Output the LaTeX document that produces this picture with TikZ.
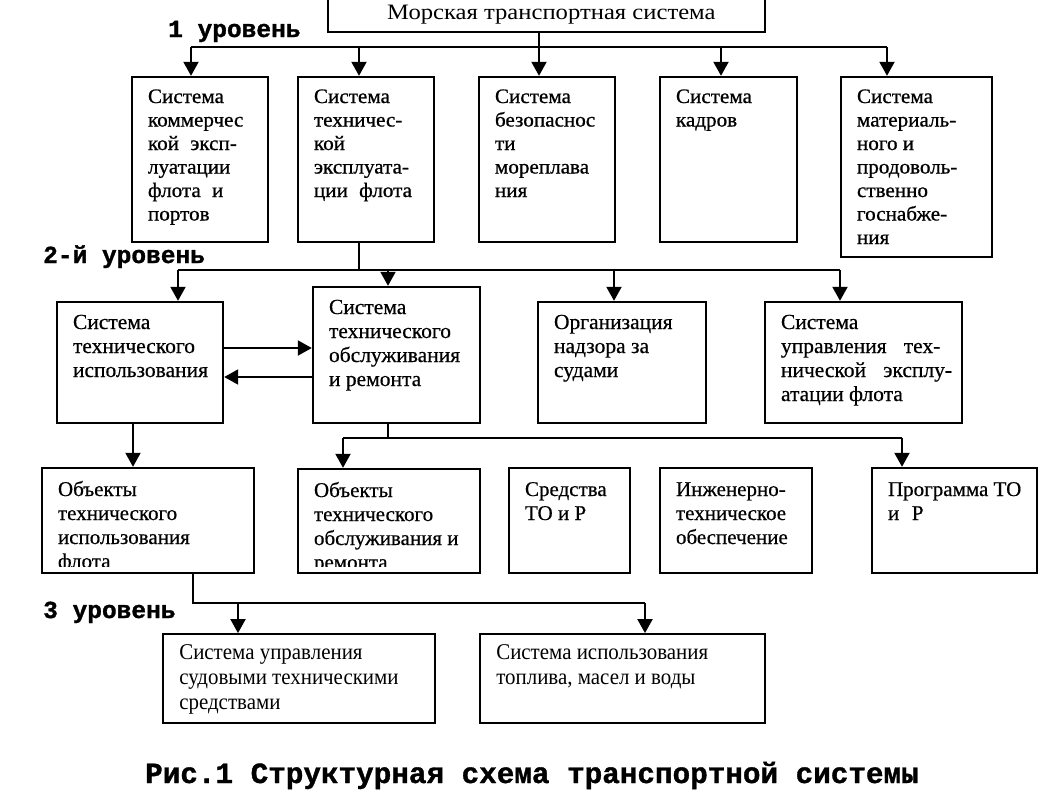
\documentclass[tikz,border=0pt]{standalone}
\usepackage{fontspec}
\setmainfont{Liberation Serif}
\newfontfamily\courb{Liberation Mono Bold}[FakeBold=1.2]
\newfontfamily\wideA{Liberation Serif}[FakeStretch=1.03, FakeBold=0.8]
\newfontfamily\wideT{Liberation Serif}[FakeStretch=1.12]
\newfontfamily\regB{Liberation Serif}[FakeBold=0.5]
\newfontfamily\condE{Liberation Serif}[FakeStretch=0.93]
\usetikzlibrary{arrows.meta,fit}
\tikzset{
  box/.style={draw, line width=2.4pt, inner sep=0pt},
  thinbox/.style={draw, line width=1.8pt, inner sep=0pt},
  txt/.style={anchor=north west, inner sep=0pt, align=left, font=\wideA\fontsize{20.5}{23.5}\selectfont},
  txtc/.style={anchor=north west, inner sep=0pt, align=left, font=\regB\fontsize{21.5}{24}\selectfont},
  txtd/.style={anchor=north west, inner sep=0pt, align=left, font=\regB\fontsize{21}{24}\selectfont},
  txte/.style={anchor=north west, inner sep=0pt, align=left, font=\condE\fontsize{22.5}{25}\selectfont},
  conn/.style={line width=2pt},
  arr/.style={conn, -{Triangle[length=14pt,width=15pt]}},
  lvl/.style={anchor=base west, inner sep=0pt, font=\courb\fontsize{24.5}{24.5}\selectfont},
}
% box: [style] name, x1, y1, x2, y2
\newcommand\mkbox[6][box]{\node[#1, fit={(#3,#4) (#5,#6)}] (#2) {};}
% text: name of box, style, first baseline offset, text
\newcommand\mktxt[4]{\node[#2] (#1t) at ([xshift=17pt, yshift=-#3pt+16pt]#1.north west) {\rule{0pt}{16pt}#4};}
\begin{document}
\begin{tikzpicture}[x=1pt, y=-1pt]
\useasboundingbox (0,0) rectangle (1052,807);
\fill[white] (0,0) rectangle (1052,807);

% top
\mkbox{top}{328}{-10}{765}{32}
\node[anchor=base west, inner sep=0pt, font=\wideT\fontsize{22}{22}\selectfont] (topt) at (387,19) {Морская транспортная система};

% level labels
\node[lvl] (l1) at (168,37) {1 уровень};
\node[lvl] (l2) at (43,263) {2-й уровень};
\node[lvl] (l3) at (43,618) {3 уровень};

% level 1 boxes
\mkbox{b1}{132}{77}{268}{242}
\mkbox{b2}{298}{77}{434}{242}
\mkbox{b3}{479}{77}{615}{242}
\mkbox{b4}{660}{77}{797}{242}
\mkbox{b5}{841}{77}{992}{257}
\mktxt{b1}{txt}{27}{Система\\коммерчес\\кой\hspace{0.55em}эксп-\\луатации\\флота\hspace{0.55em}и\\портов}
\mktxt{b2}{txt}{27}{Система\\техничес-\\кой\\эксплуата-\\ции\hspace{0.55em}флота}
\mktxt{b3}{txt}{27}{Система\\безопасноc\\ти\\мореплава\\ния}
\mktxt{b4}{txt}{27}{Система\\кадров}
\mktxt{b5}{txt}{27}{Система\\материаль-\\ного и\\продоволь-\\ственно\\госнабже-\\ния}

% level 1 connectors
\coordinate (p1) at (191,47);
\coordinate (p2) at (359,47);
\coordinate (p3) at (539,47);
\coordinate (p4) at (721,47);
\coordinate (p5) at (887,47);
\draw[conn] (p1) -- (p5);
\draw[conn] (top.south -| p3) -- (p3);
\draw[arr] (p1) -- (p1 |- b1.north);
\draw[arr] (p2) -- (p2 |- b2.north);
\draw[arr] (p3) -- (p3 |- b3.north);
\draw[arr] (p4) -- (p4 |- b4.north);
\draw[arr] (p5) -- (p5 |- b5.north);

% level 2 boxes
\mkbox{c1}{57}{302}{223}{423}
\mkbox{c2}{313}{287}{480}{423}
\mkbox{c3}{538}{302}{706}{423}
\mkbox{c4}{765}{302}{962}{423}
\mktxt{c1}{txtc}{28}{Система\\технического\\использования}
\mktxt{c2}{txtc}{28}{Система\\технического\\обслуживания\\и ремонта}
\mktxt{c3}{txtc}{28}{Организация\\надзора за\\судами}
\mktxt{c4}{txtc}{28}{Система\\управления\hspace{0.8em}тех-\\нической\hspace{0.8em}эксплу-\\атации флота}

% level 2 connectors
\coordinate (q0) at (359,270);
\coordinate (q1) at (178,270);
\coordinate (q2) at (388,270);
\coordinate (q3) at (614,270);
\coordinate (q4) at (840,270);
\draw[conn] (b2.south -| q0) -- (q0);
\draw[conn] (q1) -- (q4);
\draw[arr] (q1) -- (q1 |- c1.north);
\draw[arr] (q2) -- (q2 |- c2.north);
\draw[arr] (q3) -- (q3 |- c3.north);
\draw[arr] (q4) -- (q4 |- c4.north);
\coordinate (h1) at (0,348);
\coordinate (h2) at (0,377);
\draw[arr] (c1.east |- h1) -- (c2.west |- h1);
\draw[arr] (c2.west |- h2) -- (c1.east |- h2);

% lower boxes
\mkbox{d1}{42}{468}{254}{573}
\mkbox{d2}{298}{469}{480}{573}
\mkbox{d3}{509}{468}{630}{573}
\mkbox{d4}{660}{468}{812}{573}
\mkbox{d5}{872}{468}{1037}{573}
\begin{scope}
\clip (30,460) rectangle (500,566);
\mktxt{d1}{txtd}{29}{Объекты\\технического\\использования\\флота}
\mktxt{d2}{txtd}{29}{Объекты\\технического\\обслуживания и\\ремонта}
\end{scope}
\mktxt{d3}{txtd}{29}{Средства\\ТО и Р}
\mktxt{d4}{txtd}{29}{Инженерно-\\техническое\\обеспечение}
\mktxt{d5}{txtd}{29}{Программа ТО\\и\hspace{0.6em}Р}

% connectors to lower boxes
\coordinate (r0) at (133,0);
\draw[arr] (c1.south -| r0) -- (d1.north -| r0);
\coordinate (s0) at (388,438);
\coordinate (s1) at (343,438);
\coordinate (s2) at (902,438);
\draw[conn] (c2.south -| s0) -- (s0);
\draw[conn] (s1) -- (s2);
\draw[arr] (s1) -- (s1 |- d2.north);
\draw[arr] (s2) -- (s2 |- d5.north);

% level 3 boxes
\mkbox[thinbox]{e1}{163}{634}{435}{723}
\mkbox[thinbox]{e2}{480}{634}{765}{723}
\mktxt{e1}{txte}{26}{Система управления\\судовыми техническими\\средствами}
\mktxt{e2}{txte}{26}{Система использования\\топлива, масел и воды}

\coordinate (u0) at (193,603);
\coordinate (u1) at (238,603);
\coordinate (u2) at (645,603);
\draw[conn] (d1.south -| u0) -- (u0) -- (u2);
\draw[arr] (u1) -- (u1 |- e1.north);
\draw[arr] (u2) -- (u2 |- e2.north);

% caption
\node[anchor=base west, inner sep=0pt, font=\courb\fontsize{29.3}{29.3}\selectfont] (cap) at (145,783) {Рис.1 Структурная схема транспортной системы};
\end{tikzpicture}
\end{document}
